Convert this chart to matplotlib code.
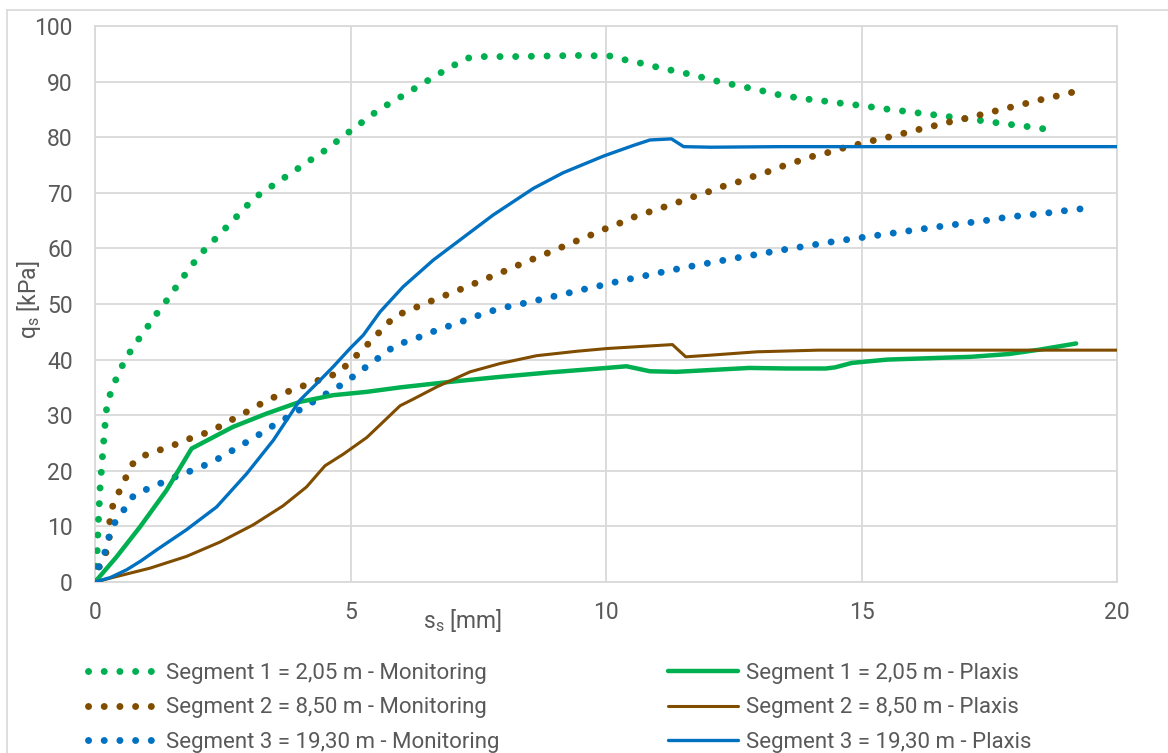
import matplotlib
matplotlib.use("Agg")
import matplotlib.pyplot as plt
from matplotlib.lines import Line2D

plt.rcParams['font.family'] = ['Roboto', 'DejaVu Sans']
plt.rcParams['mathtext.fontset'] = 'custom'
plt.rcParams['mathtext.rm'] = 'Roboto'

# --- measured shaft friction q_s [kPa] vs. settlement s_s [mm] ---
seg1_mon_s = [0, 0.03, 0.07, 0.10, 0.15, 0.20, 0.23, 0.31, 0.43, 0.57, 0.72, 0.91, 1.10,
              1.27, 1.47, 1.64, 1.82, 2.02, 2.21, 2.45, 2.66, 2.88, 3.09, 3.35, 3.60,
              3.87, 4.13, 4.38, 4.64, 4.89, 5.13, 5.38, 5.64, 5.92, 6.19, 6.46, 6.73,
              7.00, 7.26, 7.57, 8.20, 8.83, 9.45, 10.08, 10.38, 10.69, 11.00, 11.30,
              11.60, 11.91, 12.21, 12.52, 12.83, 13.13, 13.44, 13.75, 14.06, 14.37,
              14.68, 14.99, 15.30, 15.62, 15.92, 16.24, 16.55, 16.86, 17.17, 17.49,
              17.80, 18.10, 18.42, 18.72]
seg1_mon_q = [0, 3.0, 11.5, 17.0, 23.0, 28.7, 31.5, 34.2, 36.9, 39.6, 41.9, 44.4, 46.8,
              49.1, 51.4, 53.8, 56.0, 58.5, 60.4, 62.6, 64.7, 66.7, 68.9, 70.5, 72.1,
              73.7, 75.4, 76.8, 78.6, 80.4, 82.0, 83.8, 85.4, 86.9, 88.4, 89.9, 91.4,
              92.8, 94.2, 94.5, 94.5, 94.6, 94.7, 94.6, 93.9, 93.3, 92.6, 92.0,
              91.4, 90.7, 90.0, 89.4, 88.8, 88.2, 87.5, 87.1, 86.7, 86.4,
              86.0, 85.7, 85.3, 84.9, 84.6, 84.2, 83.9, 83.5, 83.2, 82.8,
              82.4, 82.1, 81.7, 81.3]

seg2_mon_s = [0, 0.08, 0.22, 0.28, 0.29, 0.35, 0.48, 0.62, 0.76, 1.02, 1.32, 1.62, 1.91,
              2.20, 2.49, 2.76, 3.03, 3.31, 3.59, 3.88, 4.17, 4.47, 4.76, 4.99, 5.21,
              5.43, 5.64, 5.87, 6.15, 6.44, 6.73, 7.03, 7.31, 7.60, 7.89, 8.18, 8.47,
              8.76, 9.05, 9.33, 9.63, 9.92, 10.21, 10.50, 10.79, 11.09, 11.38, 11.68,
              11.98, 12.27, 12.57, 12.87, 13.17, 13.46, 13.76, 14.06, 14.37, 14.66,
              14.97, 15.27, 15.57, 15.87, 16.17, 16.49, 16.79, 17.10, 17.40, 17.70,
              18.01, 18.32, 18.62, 18.92, 19.22]
seg2_mon_q = [0, 2.7, 5.4, 8.1, 11.0, 13.8, 16.4, 19.1, 21.6, 23.0, 23.9, 24.9, 26.0,
              26.9, 28.2, 29.6, 30.9, 32.4, 33.6, 34.6, 35.6, 36.6, 37.6, 39.6, 41.6,
              43.6, 45.7, 47.8, 48.9, 50.0, 51.1, 52.2, 53.2, 54.4, 55.4, 56.6, 57.7,
              58.8, 59.9, 61.0, 62.1, 63.3, 64.3, 65.5, 66.4, 67.3, 68.2, 69.2,
              70.1, 71.1, 71.9, 72.9, 73.8, 74.8, 75.7, 76.6, 77.3, 78.1,
              78.8, 79.5, 80.1, 80.8, 81.5, 82.2, 82.9, 83.5, 84.2, 84.9,
              85.6, 86.3, 87.0, 87.6, 88.3]

seg3_mon_s = [0, 0.08, 0.20, 0.28, 0.40, 0.59, 0.76, 1.04, 1.32, 1.62, 1.91, 2.20, 2.48,
              2.75, 3.01, 3.28, 3.55, 3.82, 4.08, 4.36, 4.62, 4.89, 5.14, 5.40, 5.65,
              5.90, 6.20, 6.49, 6.78, 7.08, 7.37, 7.67, 7.97, 8.28, 8.58, 8.89, 9.19,
              9.49, 9.80, 10.11, 10.41, 10.72, 11.50, 12.50, 13.50, 14.50, 15.50,
              16.50, 17.50, 17.83, 18.14, 18.45, 18.77, 19.07, 19.39]
seg3_mon_q = [0, 2.75, 5.5, 8.3, 10.9, 13.3, 15.6, 16.8, 17.9, 19.1, 20.1, 21.2, 22.5,
              24.0, 25.4, 26.9, 28.5, 29.9, 31.4, 32.9, 34.4, 35.8, 37.6, 39.3, 41.0,
              42.7, 43.5, 44.6, 45.6, 46.5, 47.5, 48.5, 49.3, 49.9, 50.5, 51.2, 51.8,
              52.5, 53.1, 53.8, 54.4, 55.0, 56.5, 58.2, 59.8, 61.3, 62.6,
              63.9, 65.1, 65.6, 65.9, 66.2, 66.5, 66.9, 67.2]

# --- Plaxis back-analysis ---
seg1_fem_s = [0, 0.42, 0.88, 1.40, 1.89, 2.70, 3.36, 4.01, 4.66, 4.99, 5.32, 5.97, 6.95,
              7.93, 8.90, 10.01, 10.40, 10.86, 11.38, 12.80, 13.55, 14.30, 14.48, 14.81,
              15.50, 17.14, 17.88, 18.49, 19.20]
seg1_fem_q = [0, 4.5, 9.9, 16.5, 24.0, 27.9, 30.3, 32.4, 33.6, 33.9, 34.2, 35.0, 36.0,
              36.9, 37.7, 38.5, 38.8, 37.9, 37.8, 38.5, 38.4, 38.4, 38.6, 39.4,
              40.0, 40.5, 41.0, 41.8, 42.9]

seg2_fem_s = [0, 0.36, 1.08, 1.79, 2.45, 3.10, 3.68, 4.14, 4.50, 4.86, 5.32, 5.64, 5.97,
              6.23, 6.69, 7.34, 7.93, 8.64, 9.43, 10.03, 11.30, 11.56, 12.05, 12.95,
              14.16, 20.00]
seg2_fem_q = [0, 0.84, 2.5, 4.6, 7.2, 10.3, 13.7, 17.1, 20.9, 23.0, 26.0, 28.8, 31.7,
              32.9, 35.1, 37.8, 39.3, 40.7, 41.5, 42.0, 42.7, 40.5, 40.8, 41.4,
              41.7, 41.7]

seg3_fem_s = [0, 0.30, 0.62, 0.90, 1.21, 1.79, 2.38, 2.97, 3.49, 4.01, 4.34, 4.66, 4.99,
              5.25, 5.58, 6.03, 6.62, 7.14, 7.79, 8.58, 9.16, 9.95, 10.53, 10.86, 11.28,
              11.52, 12.05, 13.40, 20.00]
seg3_fem_q = [0, 0.8, 2.2, 3.8, 5.8, 9.4, 13.5, 19.5, 25.5, 32.7, 35.7, 38.7, 42.0,
              44.4, 48.6, 53.1, 57.9, 61.5, 66.0, 70.8, 73.6, 76.6, 78.5, 79.5, 79.7,
              78.3, 78.2, 78.3, 78.3]

mon_labels = ["Segment 1 = 2,05 m - Monitoring",
              "Segment 2 = 8,50 m - Monitoring",
              "Segment 3 = 19,30 m - Monitoring"]
fem_labels = ["Segment 1 = 2,05 m - Plaxis",
              "Segment 2 = 8,50 m - Plaxis",
              "Segment 3 = 19,30 m - Plaxis"]
x_ticks = [0, 5, 10, 15, 20]
y_ticks = [0, 10, 20, 30, 40, 50, 60, 70, 80, 90, 100]

GREEN, BROWN, BLUE = "#00B050", "#7F4C00", "#0070C0"
GRID = "#D9D9D9"
TEXT = "#595959"
W, H = 1168, 753
FS = 16.5
LEG_FS = 16

fig = plt.figure(figsize=(W / 100, H / 100), dpi=100)
ax = fig.add_axes([95 / W, 1 - 582 / H, (1117 - 95) / W, (582 - 26) / H])

# chart-area frame (left and top edges)
fig.add_artist(Line2D([7 / W, 7 / W], [0, 1 - 10 / H], color=GRID, lw=1.2))
fig.add_artist(Line2D([7 / W, 1], [1 - 10 / H, 1 - 10 / H], color=GRID, lw=1.2))

dot_lw = 5.0
dots = (0, (0.01, 2.25))
mon = [(seg1_mon_s, seg1_mon_q, GREEN), (seg2_mon_s, seg2_mon_q, BROWN),
       (seg3_mon_s, seg3_mon_q, BLUE)]
fem = [(seg1_fem_s, seg1_fem_q, GREEN, 3.2), (seg2_fem_s, seg2_fem_q, BROWN, 2.2),
       (seg3_fem_s, seg3_fem_q, BLUE, 2.4)]

mon_handles = []
for (s, q, c), lab in zip(mon, mon_labels):
    ln, = ax.plot(s, q, color=c, lw=dot_lw, linestyle=dots,
                  dash_capstyle='round', label=lab, zorder=3)
    mon_handles.append(ln)
fem_handles = []
for (s, q, c, lw), lab in zip(fem, fem_labels):
    ln, = ax.plot(s, q, color=c, lw=lw, solid_capstyle='round',
                  solid_joinstyle='round', label=lab, zorder=4)
    fem_handles.append(ln)

ax.set_xlim(0, 20)
ax.set_ylim(0, 100)
ax.set_xticks(x_ticks)
ax.set_yticks(y_ticks)
ax.grid(True, color=GRID, lw=1.3)
ax.set_axisbelow(True)
for sp in ax.spines.values():
    sp.set_color(GRID)
    sp.set_linewidth(1.3)
ax.tick_params(length=0, labelsize=FS, labelcolor=TEXT)
ax.tick_params(axis='y', pad=16)
ax.tick_params(axis='x', pad=14)

fig.text(463 / W, 1 - 620 / H, r"$\mathregular{s_s}$ [mm]", fontsize=FS,
         color=TEXT, ha='center', va='center')
fig.text(29 / W, 1 - 300 / H, r"$\mathregular{q_s}$ [kPa]", fontsize=FS,
         color=TEXT, ha='center', va='center', rotation=90)

leg_kw = dict(loc='upper left', frameon=False, fontsize=LEG_FS, handlelength=3.15,
              handletextpad=0.36, labelspacing=0.6, borderpad=0, borderaxespad=0,
              labelcolor=TEXT)
leg1 = fig.legend(handles=mon_handles, bbox_to_anchor=(88 / W, 1 - 663 / H), **leg_kw)
leg2 = fig.legend(handles=fem_handles, bbox_to_anchor=(668 / W, 1 - 663 / H), **leg_kw)

fig.savefig("out.png", dpi=100)
